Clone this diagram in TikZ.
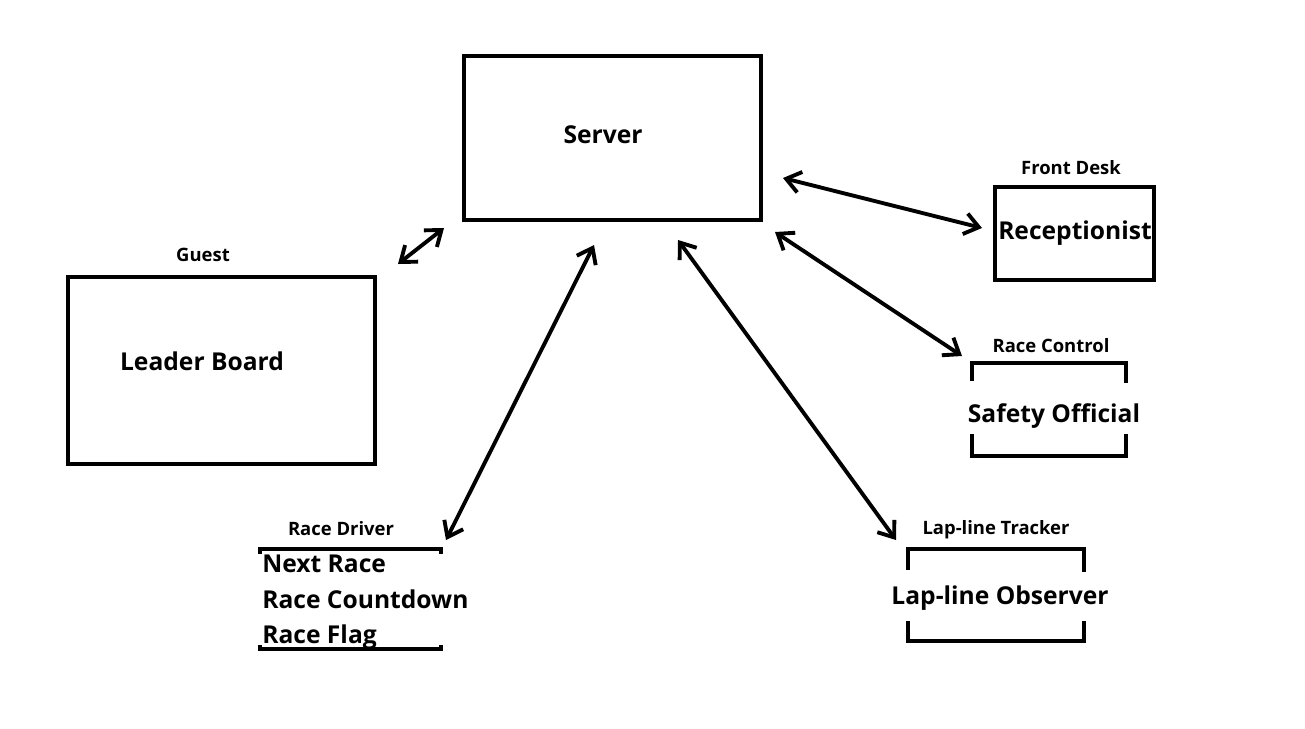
\documentclass[tikz,border=0pt]{standalone}
\usepackage{fontspec}
\setmainfont{Open Sans}
\usepackage{tikz}
\usetikzlibrary{arrows.meta,positioning,calc}
\tikzstyle{arrow} = [line width=2.2pt,{Straight Barb[length=8pt,width=12pt]}-{Straight Barb[length=8pt,width=12pt]}]
\tikzstyle{block} = [rectangle, draw, line width=2.2pt, inner sep=0pt]
\tikzstyle{bracket} = [line width=2.2pt]
\tikzstyle{tag} = [font=\bfseries\fontsize{10.5}{12}\selectfont, inner sep=0pt]
\tikzstyle{title} = [font=\bfseries\fontsize{14}{16}\selectfont, inner sep=0pt]

\begin{document}
\begin{tikzpicture}[x=0.02cm, y=-0.02cm]
    \useasboundingbox (0,0) rectangle (1305,728);

    % Server
    \node[block, minimum width=5.94cm, minimum height=3.28cm] (server) at (612.5,138) {};
    \node[title] (servertext) at (603,135) {Server};

    % Guest
    \node[block, minimum width=6.14cm, minimum height=3.74cm] (board) at (221.5,370.5) {};
    \node[title] (boardtext) at (202,361) {Leader Board};
    \node[tag] (guest) at (203,255) {Guest};

    % Front desk
    \node[block, minimum width=3.18cm, minimum height=1.86cm] (desk) at (1074.5,233.5) {};
    \node[title] (desktext) at (1075,233) {Receptionist};
    \node[tag] (front) at (1071,168) {Front Desk};

    % Race control
    \node[title] (safety) at (1054,416) {Safety Official};
    \node[tag] (control) at (1051,346) {Race Control};
    \draw[bracket] (972,381) -- (972,363) -- (1126,363) -- (1126,383);
    \draw[bracket] (972,434) -- (972,456) -- (1126,456) -- (1126,434);

    % Lap-line tracker
    \node[title] (observer) at (1000,598) {Lap-line Observer};
    \node[tag] (tracker) at (996,530) {Lap-line Tracker};
    \draw[bracket] (908,570) -- (908,549) -- (1084,549) -- (1084,572);
    \draw[bracket] (908,621) -- (908,641) -- (1084,641) -- (1084,621);

    % Race driver
    \node[tag] (driver) at (341,529) {Race Driver};
    \node[title, anchor=west] (next) at (262,564) {Next Race};
    \node[title, anchor=west] (countdown) at (262,599) {Race Countdown};
    \node[title, anchor=west] (flag) at (262,637) {Race Flag};
    \draw[bracket] (260,554) -- (260,549) -- (441,549) -- (441,554);
    \draw[bracket] (260,645) -- (260,649) -- (441,649) -- (441,645);

    % Arrow ends
    \coordinate (g1) at (398,264);
    \coordinate (g2) at (444,228);
    \coordinate (d1) at (446,540);
    \coordinate (d2) at (594,245);
    \coordinate (t1) at (896,540);
    \coordinate (t2) at (678,240);
    \coordinate (c1) at (962,356);
    \coordinate (c2) at (775,232);
    \coordinate (f1) at (982,228);
    \coordinate (f2) at (783,178);

    % Arrows
    \draw[arrow] (g1) -- (g2);
    \draw[arrow] (d1) -- (d2);
    \draw[arrow] (t1) -- (t2);
    \draw[arrow] (c1) -- (c2);
    \draw[arrow] (f1) -- (f2);
\end{tikzpicture}
\end{document}
